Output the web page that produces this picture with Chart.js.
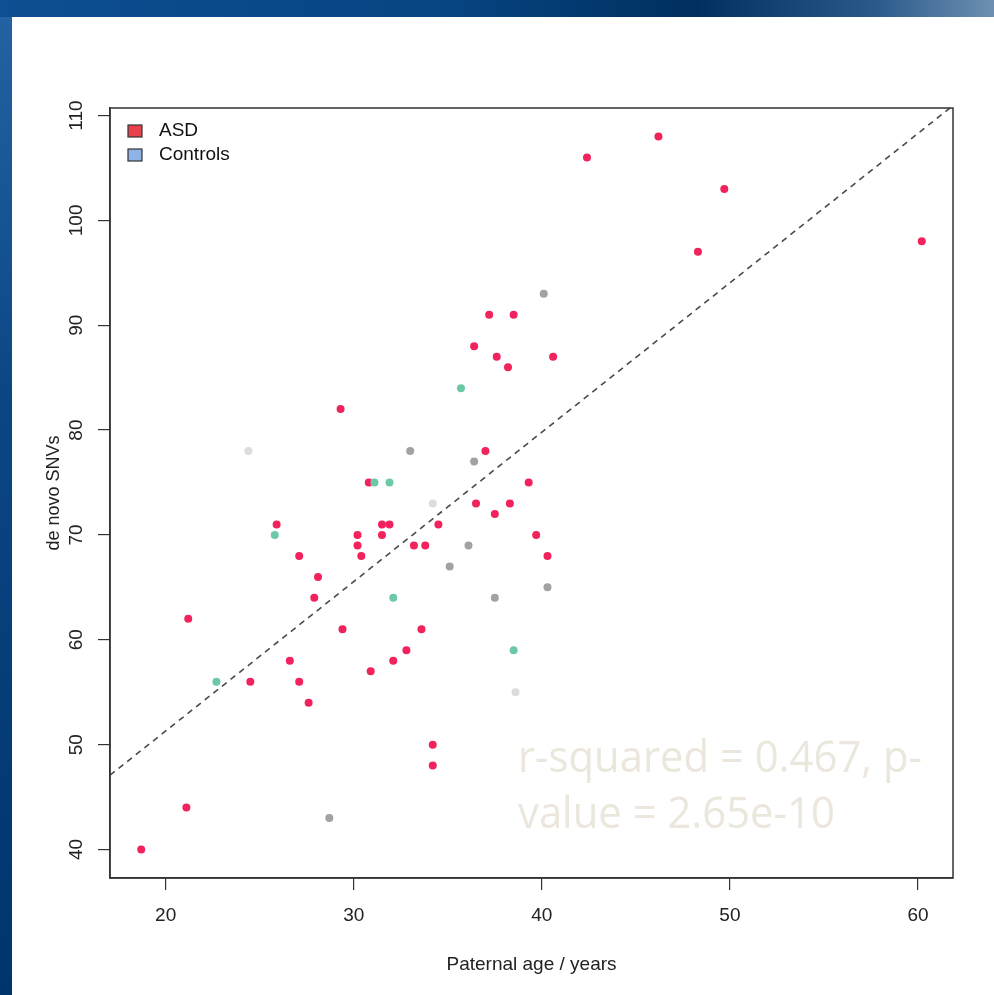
<!DOCTYPE html>
<html>
<head>
<meta charset="utf-8">
<script src="https://cdn.jsdelivr.net/npm/chart.js@4.4.1/dist/chart.umd.min.js"></script>
<style>
  html, body { margin: 0; padding: 0; }
  body {
    width: 994px; height: 995px; overflow: hidden; position: relative;
    background: linear-gradient(180deg, #2464a4 0%, #0b4684 40%, #00346c 100%);
  }
  .topband {
    position: absolute; left: 0; top: 0; width: 994px; height: 17px;
    background: linear-gradient(90deg, #0d4f92 0%, #074482 45%, #00305f 70%, #2a5a8a 88%, #6e8fb2 100%);
  }
  .sheet { position: absolute; left: 12px; top: 17px; width: 982px; height: 978px; background: #fff; }
  canvas { position: absolute; left: 0; top: 0; }
</style>
</head>
<body>
<div class="topband"></div>
<div class="sheet"></div>
<canvas id="chart" width="994" height="995"></canvas>
<script>
// values
const asdPoints = [
  [18.7, 40], [21.1, 44], [21.2, 62], [24.5, 56], [25.9, 71], [26.6, 58], [27.1, 68], [27.1, 56],
  [27.6, 54], [27.9, 64], [28.1, 66], [29.3, 82], [29.4, 61], [30.2, 70], [30.2, 69], [30.4, 68],
  [30.9, 57], [30.8, 75], [31.5, 71], [31.5, 70], [31.9, 71], [32.1, 58], [32.8, 59], [33.2, 69],
  [33.8, 69], [33.6, 61], [34.5, 71], [34.2, 50], [34.2, 48], [36.5, 73], [38.3, 73], [37.5, 72],
  [37.0, 78], [39.3, 75], [39.7, 70], [40.3, 68], [36.4, 88], [37.6, 87], [38.2, 86], [40.6, 87],
  [37.2, 91], [38.5, 91], [42.4, 106], [46.2, 108], [49.7, 103], [48.3, 97], [60.2, 98]
];
const controlTeal = [[22.7, 56], [25.8, 70], [31.1, 75], [31.9, 75], [32.1, 64], [35.7, 84], [38.5, 59]];
const controlGray = [[28.7, 43], [33.0, 78], [36.4, 77], [35.1, 67], [36.1, 69], [37.5, 64], [40.3, 65], [40.1, 93]];
const controlFaint = [[24.4, 78], [34.2, 73], [38.6, 55]];

const xTickValues = [20, 30, 40, 50, 60];
const yTickValues = [40, 50, 60, 70, 80, 90, 100, 110];
const xRange = [17.04, 61.86];
const yRange = [37.28, 110.72];

// fitted line
const fitIntercept = 22.8;
const fitSlope = 1.425;

const legendItems = ['ASD', 'Controls'];
const statLines = ['r-squared = 0.467, p-', 'value = 2.65e-10'];

const FONT = '"Liberation Sans", Arial, sans-serif';
const toXY = arr => arr.map(p => ({ x: p[0], y: p[1] }));

const boxPlugin = {
    id: 'rbox',
    afterDraw(chart) {
        const { ctx, chartArea: a } = chart;
        ctx.save();
        ctx.strokeStyle = '#333';
        ctx.lineWidth = 1.5;
        ctx.strokeRect(a.left, a.top, a.right - a.left, a.bottom - a.top);
        ctx.restore();
    }
};

const legendPlugin = {
    id: 'rlegend',
    afterDraw(chart) {
        const { ctx } = chart;
        const fills = ['#e8404c', '#8fb3e6'];
        ctx.save();
        ctx.font = '19px ' + FONT;
        ctx.textBaseline = 'middle';
        for (let i = 0; i < legendItems.length; i++) {
            const y = 131 + i * 24;
            ctx.fillStyle = fills[i];
            ctx.fillRect(128, y - 6, 14, 12);
            ctx.strokeStyle = '#333';
            ctx.lineWidth = 1.2;
            ctx.strokeRect(128, y - 6, 14, 12);
            ctx.fillStyle = '#111';
            ctx.fillText(legendItems[i], 159, y);
        }
        ctx.restore();
    }
};

// the big pale stats text, narrower than Open Sans so squeeze it sideways
const statPlugin = {
    id: 'stats',
    afterDraw(chart) {
        const { ctx } = chart;
        ctx.save();
        ctx.font = '44px "Open Sans", sans-serif';
        const sx = 404 / ctx.measureText(statLines[0]).width;
        ctx.translate(518, 0);
        ctx.scale(sx, 1);
        ctx.fillStyle = '#ebe7dc';
        ctx.textBaseline = 'alphabetic';
        ctx.fillText(statLines[0], 0, 772);
        ctx.fillText(statLines[1], 0, 828);
        ctx.restore();
    }
};

const pointSet = (label, data, color) => ({
    label: label,
    data: toXY(data),
    backgroundColor: color,
    borderColor: color,
    pointRadius: 4,
    pointBorderWidth: 0,
    order: 1
});

new Chart(document.getElementById('chart'), {
    type: 'scatter',
    data: {
        datasets: [
            pointSet('Controls', controlFaint, '#dcdcdc'),
            pointSet('Controls', controlGray, '#a2a2a2'),
            pointSet('Controls', controlTeal, '#6cc9a6'),
            pointSet('ASD', asdPoints, '#f2225c'),
            {
                type: 'line',
                label: 'fit',
                data: [
                    { x: xRange[0], y: fitIntercept + fitSlope * xRange[0] },
                    { x: xRange[1], y: fitIntercept + fitSlope * xRange[1] }
                ],
                borderColor: '#4a4a4a',
                borderWidth: 1.6,
                borderDash: [6, 5],
                pointRadius: 0,
                fill: false,
                order: 0
            }
        ]
    },
    options: {
        responsive: false,
        animation: false,
        devicePixelRatio: 1,
        layout: { padding: { left: 0, top: 108, right: 41, bottom: 0 } },
        plugins: {
            legend: { display: false },
            tooltip: { enabled: false }
        },
        scales: {
            x: {
                type: 'linear',
                min: xRange[0],
                max: xRange[1],
                afterBuildTicks: s => { s.ticks = xTickValues.map(v => ({ value: v })); },
                afterFit: s => { s.height = 117; },
                grid: { drawOnChartArea: false, drawTicks: true, tickLength: 12, color: '#333', lineWidth: 1.2 },
                border: { display: true, color: '#333', width: 1.5 },
                ticks: { color: '#222', font: { family: FONT, size: 19 }, padding: 14, maxRotation: 0 },
                title: { display: true, text: 'Paternal age / years', color: '#222', font: { family: FONT, size: 19 }, padding: { top: 0, bottom: 19 } }
            },
            y: {
                type: 'linear',
                min: yRange[0],
                max: yRange[1],
                afterBuildTicks: s => { s.ticks = yTickValues.map(v => ({ value: v })); },
                afterFit: s => { s.width = 110; },
                grid: { drawOnChartArea: false, drawTicks: true, tickLength: 12, color: '#333', lineWidth: 1.2 },
                border: { display: true, color: '#333', width: 1.5 },
                ticks: { color: '#222', font: { family: FONT, size: 19 }, padding: 5, minRotation: 90, maxRotation: 90, crossAlign: 'center' },
                title: { display: true, text: 'de novo SNVs', color: '#222', font: { family: FONT, size: 18 }, padding: { top: 43, bottom: 0 } }
            }
        }
    },
    plugins: [boxPlugin, legendPlugin, statPlugin]
});
</script>
</body>
</html>
